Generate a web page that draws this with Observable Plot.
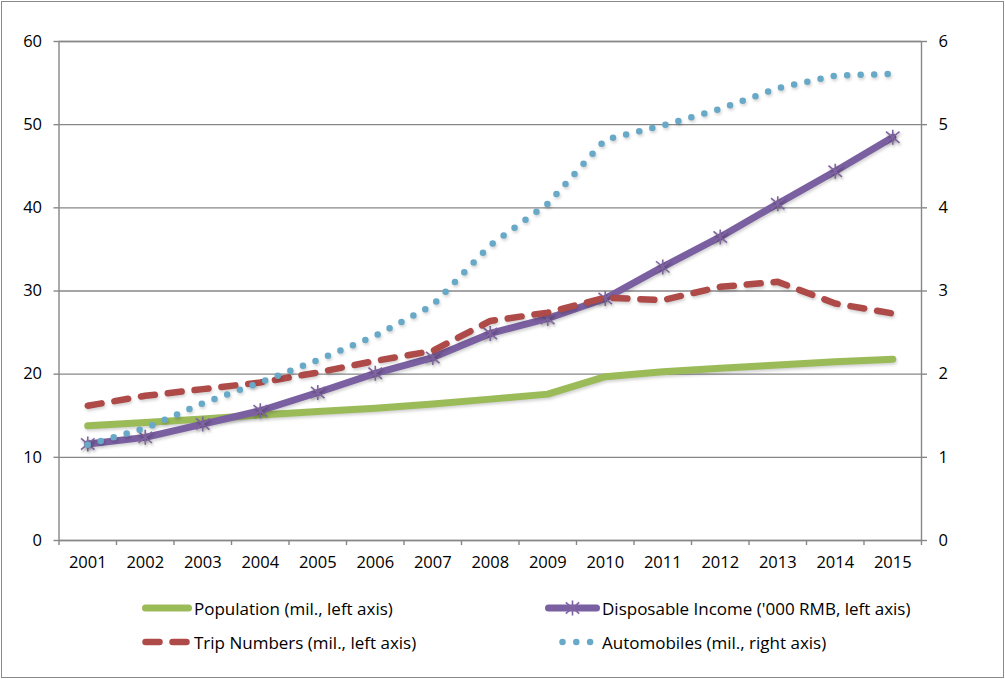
<!DOCTYPE html>
<html>
<head>
<meta charset="utf-8">
<script src="https://cdn.jsdelivr.net/npm/d3@7"></script>
<script src="https://cdn.jsdelivr.net/npm/@observablehq/plot@0.6"></script>
<style>
html,body{margin:0;padding:0;background:#fff;}
#wrap{position:relative;width:1005px;height:679px;overflow:hidden;font-family:"Open Sans","Noto Sans",sans-serif;background:#fff;}
#frame{position:absolute;left:1px;top:1px;width:1001px;height:675px;border:1px solid #8a8a8a;pointer-events:none;}
#chart{position:absolute;left:0;top:0;}
.leg{position:absolute;font-size:17px;color:#000;display:flex;align-items:center;height:24px;white-space:nowrap;}
.leg svg{display:block;margin-right:2px;}
</style>
</head>
<body>
<div id="wrap">
  <div id="chart"></div>
  <div id="legend"></div>
  <div id="frame"></div>
</div>
<script>
// ---- data ----
const years = [2001, 2002, 2003, 2004, 2005, 2006, 2007, 2008, 2009, 2010, 2011, 2012, 2013, 2014, 2015];
const population = [13.8, 14.2, 14.6, 15.1, 15.5, 15.9, 16.4, 17.0, 17.6, 19.7, 20.3, 20.7, 21.1, 21.5, 21.8];
const income = [11.6, 12.4, 14.0, 15.6, 17.8, 20.1, 22.0, 24.9, 26.7, 29.1, 32.9, 36.5, 40.5, 44.4, 48.5];
const trips = [16.2, 17.4, 18.2, 19.0, 20.2, 21.6, 22.8, 26.4, 27.4, 29.2, 28.9, 30.5, 31.1, 28.5, 27.3];
const autos = [1.15, 1.35, 1.65, 1.90, 2.17, 2.46, 2.83, 3.55, 4.05, 4.82, 4.99, 5.19, 5.44, 5.59, 5.61];
const leftTicks = [0, 10, 20, 30, 40, 50, 60];
const rightTicks = [0, 1, 2, 3, 4, 5, 6];
const seriesNames = ["Population (mil., left axis)", "Disposable Income ('000 RMB, left axis)", "Trip Numbers (mil., left axis)", "Automobiles (mil., right axis)"];

const colors = {pop: "#9BBB59", inc: "#7A5FA1", incMark: "#8064A2", trip: "#AE4A48", auto: "#68A9C7"};
const axisGray = "#878787";
const rightRatio = 10; // right axis 0-6 shown against left 0-60

const rows = years.map((yr, i) => ({year: yr, pop: population[i], inc: income[i], trip: trips[i], auto: autos[i]}));
const bounds = d3.range(years.length + 1).map(i => years[0] - 0.5 + i);

const star = {
  draw(ctx, size) {
    const r = Math.sqrt(size / Math.PI);
    const a = r * 0.9, b = r * 0.75;
    ctx.moveTo(0, -r); ctx.lineTo(0, r);
    ctx.moveTo(-a, -b); ctx.lineTo(a, b);
    ctx.moveTo(-a, b); ctx.lineTo(a, -b);
  }
};

const chart = Plot.plot({
  width: 1005,
  height: 585,
  marginLeft: 58.5,
  marginRight: 84,
  marginTop: 41,
  marginBottom: 45,
  x: {domain: [years[0] - 0.5, years[years.length - 1] + 0.5]},
  y: {domain: [0, 60]},
  style: {fontFamily: '"Open Sans","Noto Sans",sans-serif', fontSize: "16.5px", color: "#000", background: "transparent", overflow: "visible"},
  marks: [
    Plot.gridY(leftTicks, {stroke: axisGray, strokeOpacity: 1, strokeWidth: 1.4}),
    Plot.frame({stroke: axisGray, strokeWidth: 1.4}),
    Plot.axisY(leftTicks, {anchor: "left", tickSize: 5, tickPadding: 12, stroke: axisGray, strokeWidth: 1.4, fill: "#000", label: null}),
    Plot.axisY(rightTicks.map(d => d * rightRatio), {anchor: "right", tickSize: 5, tickPadding: 12, stroke: axisGray, strokeWidth: 1.4, fill: "#000", tickFormat: d => String(d / rightRatio), label: null}),
    Plot.axisX(bounds, {anchor: "bottom", tickSize: 5, stroke: axisGray, strokeWidth: 1.4, tickFormat: () => "", label: null}),
    Plot.axisX(years, {anchor: "bottom", tickSize: 0, tickPadding: 16, fill: "#000", tickFormat: d => String(d), label: null}),
    Plot.line(rows, {x: "year", y: "pop", stroke: colors.pop, strokeWidth: 7, strokeLinecap: "round", strokeLinejoin: "round"}),
    Plot.line(rows, {x: "year", y: "inc", stroke: colors.inc, strokeWidth: 7, strokeLinecap: "round", strokeLinejoin: "round"}),
    Plot.dot(rows, {x: "year", y: "inc", symbol: star, r: 7.5, stroke: colors.incMark, strokeWidth: 1.6, fill: "none"}),
    Plot.line(rows, {x: "year", y: "trip", stroke: colors.trip, strokeWidth: 6.5, strokeDasharray: "14,13", strokeLinecap: "round", strokeLinejoin: "round"}),
    Plot.line(rows, {x: "year", y: d => d.auto * rightRatio, stroke: colors.auto, strokeWidth: 6.5, strokeDasharray: "0,13.5", strokeLinecap: "round", strokeLinejoin: "round"})
  ]
});
document.getElementById("chart").appendChild(chart);
d3.select(chart).selectAll('g[aria-label="dot"] path').style("filter", "drop-shadow(1px 2px 1.5px rgba(0,0,0,0.35))");
d3.select(chart).selectAll('g[aria-label="line"] path').style("filter", "drop-shadow(1px 2px 1.5px rgba(0,0,0,0.18))");

// ---- legend ----
const legend = document.getElementById("legend");
const swatches = [
  {name: seriesNames[0], left: 142, top: 596, w: 50, kind: "pop"},
  {name: seriesNames[1], left: 545, top: 596, w: 55, kind: "inc"},
  {name: seriesNames[2], left: 142, top: 630, w: 50, kind: "trip"},
  {name: seriesNames[3], left: 545, top: 630, w: 55, kind: "auto"}
];
swatches.forEach(s => {
  const item = document.createElement("div");
  item.className = "leg";
  item.style.left = s.left + "px";
  item.style.top = s.top + "px";
  const svg = d3.create("svg").attr("width", s.w).attr("height", 24);
  const x1 = 3.5, x2 = s.w - 3.5;
  if (s.kind === "pop") {
    svg.append("line").attr("x1", x1).attr("x2", x2).attr("y1", 12).attr("y2", 12)
      .attr("stroke", colors.pop).attr("stroke-width", 7).attr("stroke-linecap", "round");
  } else if (s.kind === "inc") {
    svg.append("line").attr("x1", x1).attr("x2", x2).attr("y1", 12).attr("y2", 12)
      .attr("stroke", colors.inc).attr("stroke-width", 7).attr("stroke-linecap", "round");
    svg.append("path").attr("transform", `translate(${s.w / 2},12)`)
      .attr("d", d3.symbol(star, Math.PI * 7.5 * 7.5)())
      .attr("stroke", colors.incMark).attr("stroke-width", 1.6).attr("fill", "none");
  } else if (s.kind === "trip") {
    svg.append("line").attr("x1", x1).attr("x2", x2).attr("y1", 12).attr("y2", 12)
      .attr("stroke", colors.trip).attr("stroke-width", 6.5).attr("stroke-linecap", "round").attr("stroke-dasharray", "14,13");
  } else {
    svg.append("line").attr("x1", x1 + 14).attr("x2", x2).attr("y1", 12).attr("y2", 12)
      .attr("stroke", colors.auto).attr("stroke-width", 6.5).attr("stroke-linecap", "round").attr("stroke-dasharray", "0,13.8");
  }
  item.appendChild(svg.node());
  const span = document.createElement("span");
  span.textContent = s.name;
  item.appendChild(span);
  legend.appendChild(item);
});
</script>
</body>
</html>
